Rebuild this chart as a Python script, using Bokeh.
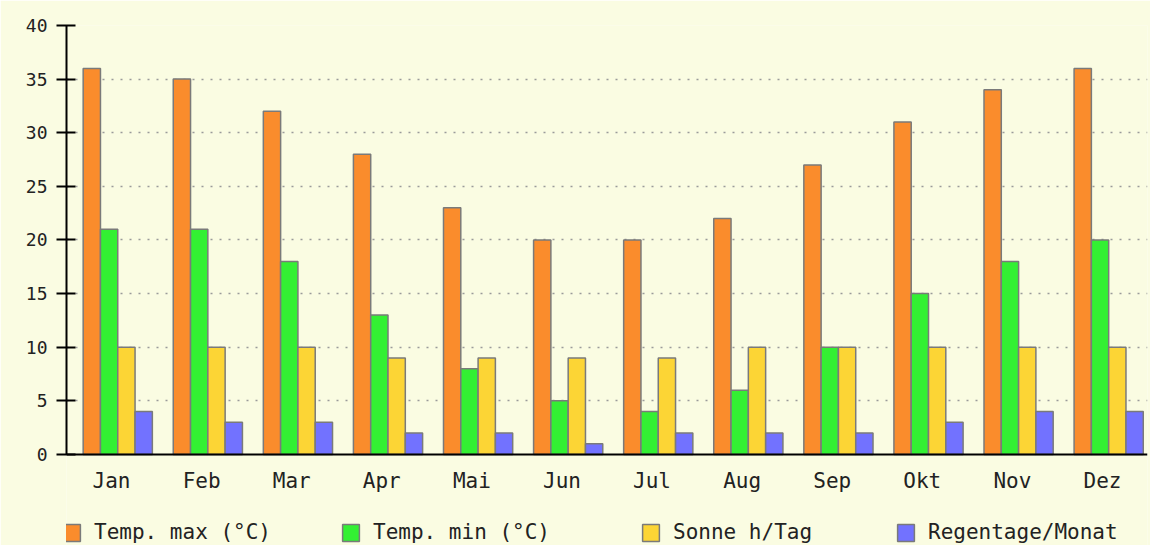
from bokeh.plotting import figure
from bokeh.models import Range1d, FixedTicker, Legend, LegendItem
from bokeh.embed import file_html
from bokeh.resources import INLINE

months = ["Jan", "Feb", "Mar", "Apr", "Mai", "Jun", "Jul", "Aug", "Sep", "Okt", "Nov", "Dez"]
temp_max = [36, 35, 32, 28, 23, 20, 20, 22, 27, 31, 34, 36]
temp_min = [21, 21, 18, 13, 8, 5, 4, 6, 10, 15, 18, 20]
sonne = [10, 10, 10, 9, 9, 9, 9, 10, 10, 10, 10, 10]
regen = [4, 3, 3, 2, 2, 1, 2, 2, 2, 3, 4, 4]
labels = ["Temp. max (°C)", "Temp. min (°C)", "Sonne h/Tag", "Regentage/Monat"]
colors = ["#FA8C2C", "#33F033", "#FCD535", "#7272FF"]
yticks = [0, 5, 10, 15, 20, 25, 30, 35, 40]

BG = "#FAFCE2"
FONT = "DejaVu Sans Mono"

# frame spans down to the bottom of the picture so the legend below is not clipped
p = figure(width=1150, height=545, output_backend="svg", toolbar_location=None,
           x_range=Range1d(0, 12), y_range=Range1d(-8.485, 40),
           min_border_left=66, min_border_top=25, min_border_bottom=0, min_border_right=3)
p.background_fill_color = BG
p.border_fill_color = BG
p.outline_line_color = None

series = [temp_max, temp_min, sonne, regen]
bw = 0.192
start = 0.185
centers = [i + 0.5 for i in range(len(months))]
renderers = []
for k, (vals, col) in enumerate(zip(series, colors)):
    xs = [i + start + bw * (k + 0.5) for i in range(len(months))]
    r = p.vbar(x=xs, top=vals, width=bw, bottom=0, fill_color=col,
               line_color="#7A7A7A", line_width=1.5)
    renderers.append(r)

# grid
p.xgrid.grid_line_color = None
p.ygrid.grid_line_color = "#9A9A9A"
p.ygrid.grid_line_dash = "2 7"
p.ygrid.grid_line_width = 1.5
p.ygrid.ticker = FixedTicker(ticks=yticks[1:])

# y axis
p.yaxis.ticker = FixedTicker(ticks=yticks)
p.yaxis.bounds = (0, 40)
p.yaxis.axis_line_color = "black"
p.yaxis.axis_line_width = 2
p.yaxis.major_tick_line_color = "black"
p.yaxis.major_tick_line_width = 2
p.yaxis.major_tick_out = 10
p.yaxis.major_tick_in = 9
p.yaxis.minor_tick_line_color = None
p.yaxis.major_label_standoff = 9
p.yaxis.major_label_text_font = FONT
p.yaxis.major_label_text_font_size = "18px"
p.yaxis.major_label_text_color = "#222222"

# x axis, fixed at y = 0
p.xaxis.fixed_location = 0
p.xaxis.ticker = FixedTicker(ticks=centers)
p.xaxis.major_label_overrides = {c: m for c, m in zip(centers, months)}
p.xaxis.axis_line_color = "black"
p.xaxis.axis_line_width = 2
p.xaxis.major_tick_line_color = None
p.xaxis.minor_tick_line_color = None
p.xaxis.major_label_standoff = 9
p.xaxis.major_label_text_font = FONT
p.xaxis.major_label_text_font_size = "21px"
p.xaxis.major_label_text_color = "#222222"

# legend: one entry each, placed below the bars
leg_x = [-5, 274, 574, 829]
for lx, lab, r in zip(leg_x, labels, renderers):
    lg = Legend(items=[LegendItem(label=lab, renderers=[r])], location=(lx, 1),
                orientation="horizontal", glyph_width=21, glyph_height=21,
                label_height=21, label_standoff=12, padding=0, margin=0,
                border_line_color=None, background_fill_alpha=0,
                label_text_font=FONT, label_text_font_size="21px",
                label_text_color="#222222")
    p.add_layout(lg, "center")

open("out.html", "w").write(file_html(p, INLINE))
